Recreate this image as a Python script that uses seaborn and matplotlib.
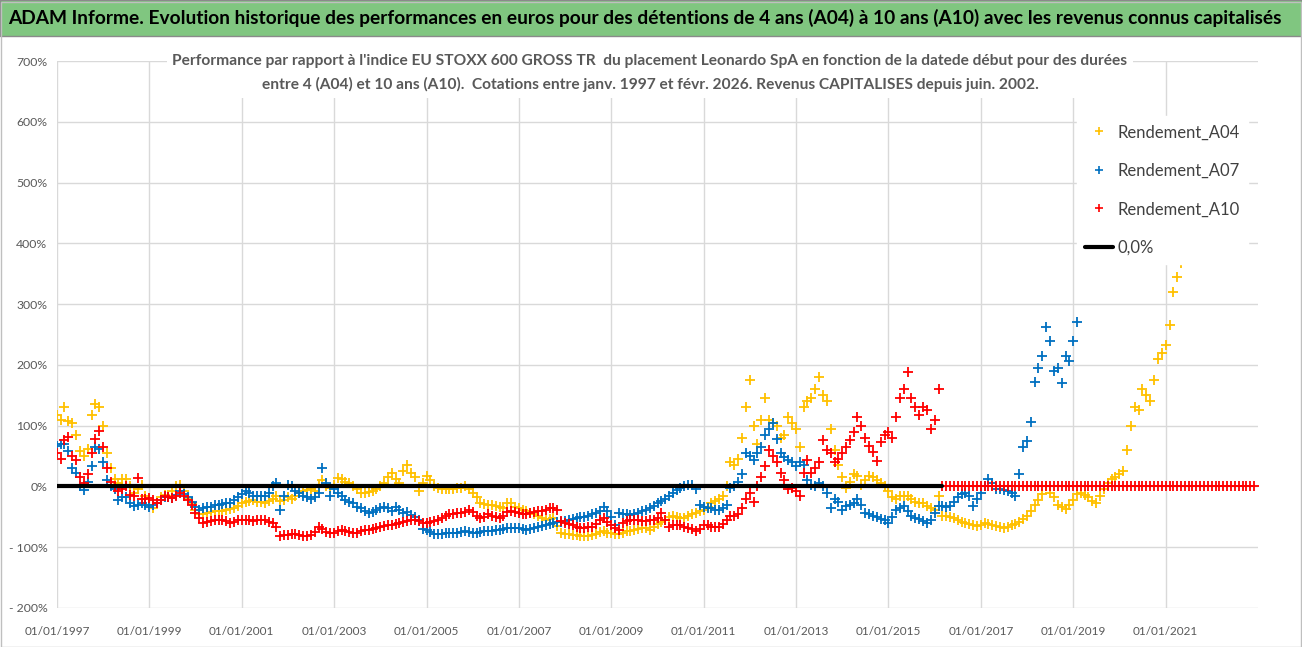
import matplotlib
matplotlib.use('Agg')
import matplotlib.pyplot as plt
import matplotlib.dates as mdates
import matplotlib.ticker as mticker
from matplotlib.lines import Line2D
from matplotlib.patches import Rectangle
import pandas as pd
import seaborn as sns

# Performance (%) vs EU STOXX 600 GROSS TR, one value per month (Jan..Dec)
a04_values = [
    118, 110, 130, 108, 104, 85, 58, 50, 62, 118, 136, 130,      # 1997
    100, 55, 30, 12, 6, 12, 12, 0, -10, -5, 2, -15,              # 1998
    -30, -36, -28, -18, -14, -15, -8, 0, 3, -8, -20, -28,        # 1999
    -38, -45, -45, -43, -42, -40, -41, -40, -38, -37, -36, -32,  # 2000
    -28, -26, -24, -23, -25, -26, -27, -24, -20, -16, -24, -22,  # 2001
    -18, -20, -15, -10, -8, -6, -5, -8, 0, 10, 0, -3,            # 2002
    2, 14, 12, 8, 5, 0, -5, -10, -11, -9, -8, -4,                # 2003
    0, 5, 15, 22, 12, 5, 25, 35, 22, 15, -8, 5,                  # 2004
    18, 10, 0, -2, -4, -5, -5, -4, -3, -2, 0, -5,                # 2005
    -10, -18, -27, -29, -30, -30, -32, -34, -35, -28, -27, -34,  # 2006
    -36, -39, -41, -43, -45, -48, -52, -55, -54, -52, -65, -77,  # 2007
    -78, -79, -80, -80, -81, -82, -82, -80, -78, -75, -74, -76,  # 2008
    -77, -79, -78, -76, -74, -73, -71, -70, -68, -69, -71, -66,  # 2009
    -62, -58, -55, -51, -49, -50, -52, -52, -48, -45, -43, -40,  # 2010
    -38, -34, -28, -24, -20, -15, 0, 40, 35, 45, 80, 130,        # 2011
    175, 100, 70, 110, 145, 110, 105, 100, 80, 85, 115, 105,     # 2012
    95, 65, 130, 140, 145, 160, 180, 150, 140, 95, 60, 35,       # 2013
    15, -3, 8, 20, 18, 2, 10, 18, 15, 10, 6, 0,                  # 2014
    -8, -18, -20, -16, -15, -15, -20, -25, -27, -28, -32, -35,   # 2015
    -38, -15, -48, -48, -50, -52, -56, -58, -60, -62, -63, -65,  # 2016
    -63, -60, -61, -63, -65, -66, -68, -67, -64, -62, -58, -54,  # 2017
    -48, -40, -30, -22, -12, 0, -10, -18, -30, -34, -37, -30,    # 2018
    -22, -12, -10, -14, -18, -24, -28, -15, -4, 5, 12, 16,       # 2019
    20, 25, 60, 100, 130, 125, 160, 150, 140, 175, 210, 220,     # 2020
    232, 265, 320, 345, 368,                                     # 2021
]

a07_values = [
    66, 70, 70, 58, 30, 22, 0, -6, 8, 33, 65, 62,                # 1997
    40, 10, 0, -5, -22, -18, -18, -28, -32, -30, -27, -30,       # 1998
    -33, -30, -27, -22, -17, -18, -19, -14, -8, -12, -18, -26,   # 1999
    -33, -38, -36, -34, -33, -31, -30, -29, -28, -27, -22, -17,  # 2000
    -12, -8, -10, -15, -16, -15, -16, -10, 0, 6, -38, -15,       # 2001
    3, 0, -8, -10, -16, -18, -20, -18, -10, 30, 5, -16,          # 2002
    -5, -10, -15, -22, -25, -28, -33, -36, -40, -44, -42, -38,   # 2003
    -36, -33, -35, -40, -33, -38, -44, -42, -47, -50, -55, -70,  # 2004
    -72, -75, -78, -79, -78, -77, -77, -77, -76, -75, -74, -75,  # 2005
    -76, -76, -75, -74, -74, -73, -72, -71, -70, -69, -68, -68,  # 2006
    -69, -70, -71, -70, -68, -66, -65, -63, -62, -60, -59, -58,  # 2007
    -57, -56, -54, -52, -51, -50, -48, -46, -44, -40, -33, -40,  # 2008
    -50, -63, -44, -45, -46, -47, -46, -44, -41, -38, -35, -32,  # 2009
    -28, -24, -20, -16, -10, -6, -3, 0, 3, 2, -5, -30,           # 2010
    -33, -35, -36, -38, -38, -36, -30, -3, 0, 8, 20, 55,         # 2011
    50, 44, 55, 65, 85, 95, 104, 78, 55, 48, 44, 40,             # 2012
    33, 40, 35, 11, 2, 0, 5, 0, -10, -35, -20, -25,              # 2013
    -38, -32, -30, -28, -21, -30, -43, -45, -49, -51, -53, -55,  # 2014
    -60, -50, -38, -35, -32, -40, -49, -52, -54, -57, -60, -55,  # 2015
    -43, -32, -32, -33, -32, -25, -18, -12, -10, -15, -32, -20,  # 2016
    -10, 0, 12, 5, -4, -5, -6, -7, -10, -15, 20, 65,             # 2017
    75, 106, 172, 195, 215, 262, 240, 190, 195, 170, 215, 206,   # 2018
    240, 270,                                                    # 2019
]

a10_values = [
    55, 45, 77, 82, 50, 44, 16, 5, 20, 55, 78, 92,               # 1997
    65, 30, 8, 0, -8, -4, 0, -14, -16, 14, -20, -21,             # 1998
    -19, -22, -27, -22, -16, -17, -19, -15, -11, -16, -22, -30,  # 1999
    -44, -52, -60, -58, -57, -56, -55, -55, -57, -60, -58, -56,  # 2000
    -55, -55, -56, -57, -55, -55, -56, -58, -60, -66, -82, -80,  # 2001
    -80, -79, -79, -80, -81, -82, -80, -75, -66, -70, -75, -77,  # 2002
    -76, -73, -71, -73, -75, -77, -76, -74, -72, -71, -70, -68,  # 2003
    -66, -65, -64, -63, -62, -60, -58, -57, -56, -55, -57, -60,  # 2004
    -60, -58, -57, -55, -52, -49, -46, -45, -44, -43, -42, -38,  # 2005
    -42, -48, -52, -50, -46, -48, -50, -52, -48, -42, -41, -42,  # 2006
    -44, -45, -46, -44, -42, -41, -40, -38, -36, -35, -38, -57,  # 2007
    -60, -62, -64, -66, -68, -68, -67, -66, -62, -55, -52, -58,  # 2008
    -63, -68, -71, -60, -57, -56, -55, -56, -57, -57, -56, -55,  # 2009
    -52, -44, -55, -66, -64, -63, -64, -66, -68, -70, -74, -70,  # 2010
    -63, -64, -66, -66, -66, -62, -56, -49, -49, -45, -35, -20,  # 2011
    -11, -25, 0, 15, 33, 60, 50, 40, 22, 10, -5, -3,             # 2012
    -8, -16, 22, 44, 22, 30, 40, 76, 60, 55, 40, 45,             # 2013
    55, 65, 76, 90, 115, 100, 80, 67, 56, 42, 73, 84,            # 2014
    90, 80, 115, 145, 160, 188, 145, 130, 118, 130, 125, 95,     # 2015
    110, 160, 0, 0, 0, 0, 0, 0, 0, 0, 0, 0,                      # 2016
    0, 0, 0, 0, 0, 0, 0, 0, 0, 0, 0, 0,                          # 2017
    0, 0, 0, 0, 0, 0, 0, 0, 0, 0, 0, 0,                          # 2018
    0, 0, 0, 0, 0, 0, 0, 0, 0, 0, 0, 0,                          # 2019
    0, 0, 0, 0, 0, 0, 0, 0, 0, 0, 0, 0,                          # 2020
    0, 0, 0, 0, 0, 0, 0, 0, 0, 0, 0, 0,                          # 2021
    0, 0, 0, 0, 0, 0, 0, 0, 0, 0, 0, 0,                          # 2022
]

zero_dates = ['1997-01-01', '2016-03-01']
zero_values = [0, 0]

series_names = ['Rendement_A04', 'Rendement_A07', 'Rendement_A10']
series_colors = ['#FFC000', '#0070C0', '#FF0000']
y_ticks = [-200, -100, 0, 100, 200, 300, 400, 500, 600, 700]
tick_years = list(range(1997, 2022, 2))

title = ("ADAM Informe. Evolution historique des performances en euros pour des détentions "
         "de 4 ans (A04) à 10 ans (A10) avec les revenus connus capitalisés")
subtitle = ("Performance par rapport à l'indice EU STOXX 600 GROSS TR  du placement Leonardo SpA "
            "en fonction de la datede début pour des durées\n"
            "entre 4 (A04) et 10 ans (A10).  Cotations entre janv. 1997 et févr. 2026. "
            "Revenus CAPITALISES depuis juin. 2002.")

sns.set_style('white')
plt.rcParams['font.family'] = ['Lato', 'DejaVu Sans']

W, H = 1302, 647
fig = plt.figure(figsize=(W / 100, H / 100), dpi=100)
ax = fig.add_axes([57 / W, 1 - 608 / H, (1258 - 57) / W, (608 - 61) / H])

# scatter series, yellow first, red on top
for vals, col, z in zip([a04_values, a07_values, a10_values], series_colors, [2, 2.1, 2.2]):
    df = pd.DataFrame({'date': pd.date_range('1997-01-01', periods=len(vals), freq='MS'),
                       'perf': vals})
    sns.scatterplot(data=df, x='date', y='perf', marker='+', color=col, s=42,
                    linewidth=1.3, ax=ax, zorder=z)

sns.lineplot(x=pd.to_datetime(zero_dates), y=zero_values, color='black', linewidth=3,
             ax=ax, zorder=4)

ax.set_xlim(pd.Timestamp('1997-01-01'), pd.Timestamp('2023-01-01'))
ax.set_ylim(-200, 700)
ax.set_xticks([pd.Timestamp(f'{y}-01-01') for y in tick_years])
ax.xaxis.set_major_formatter(mdates.DateFormatter('%d/%m/%Y'))
ax.set_yticks(y_ticks)
ax.yaxis.set_major_formatter(mticker.FuncFormatter(
    lambda v, p: f'{int(v)}%' if v >= 0 else f'- {abs(int(v))}%'))
ax.tick_params(axis='x', length=0, pad=13, labelsize=8.5, labelcolor='#595959')
ax.tick_params(axis='y', length=0, pad=7, labelsize=8.8, labelcolor='#595959')
ax.set_xlabel('')
ax.set_ylabel('')
ax.grid(True, color='#d9d9d9', linewidth=1)
ax.set_axisbelow(True)
for sp in ax.spines.values():
    sp.set_visible(False)

# legend
handles = [Line2D([], [], marker='+', color=c, linestyle='none', markersize=6,
                  markeredgewidth=1.2) for c in series_colors]
handles.append(Line2D([], [], color='black', linewidth=3))
leg = ax.legend(handles, series_names + ['0,0%'], loc='upper left',
                bbox_to_anchor=(1076.5 / W, 1 - 116 / H), bbox_transform=fig.transFigure,
                frameon=True, fontsize=12, labelspacing=1.35, handlelength=1.7,
                handletextpad=0.25, borderpad=0.5, borderaxespad=0)
leg.get_frame().set_facecolor('white')
leg.get_frame().set_edgecolor('white')
leg.get_frame().set_alpha(1)
leg.set_zorder(10)
for t in leg.get_texts():
    t.set_color('#404040')

# header banner and titles
fig.patches.append(Rectangle((0, 1 - 36 / H), 1, 36 / H, transform=fig.transFigure,
                             facecolor='#80C680', edgecolor='#8a8a8a', linewidth=1))
fig.patches.append(Rectangle((0.5 / W, 0.5 / H), 1 - 2 / W, 1 - 2 / H, transform=fig.transFigure,
                             fill=False, edgecolor='#bfbfbf', linewidth=1))
t_title = fig.text(8 / W, 1 - 18 / H, title, ha='left', va='center', fontsize=13,
                   fontweight='bold', color='black')
t_sub = fig.text(650 / W, 1 - 73 / H, subtitle, ha='center', va='center', ma='center',
                 fontsize=10.5, fontweight='bold', color='#595959', linespacing=1.75,
                 bbox=dict(facecolor='white', edgecolor='none', pad=4), zorder=5)

# fit the title widths to the reference layout
fig.canvas.draw()
r = fig.canvas.get_renderer()
t_title.set_fontsize(13 * 1275 / t_title.get_window_extent(r).width)
t_sub.set_fontsize(10.5 * 960 / t_sub.get_window_extent(r).width)

fig.savefig('out.png', dpi=100)
